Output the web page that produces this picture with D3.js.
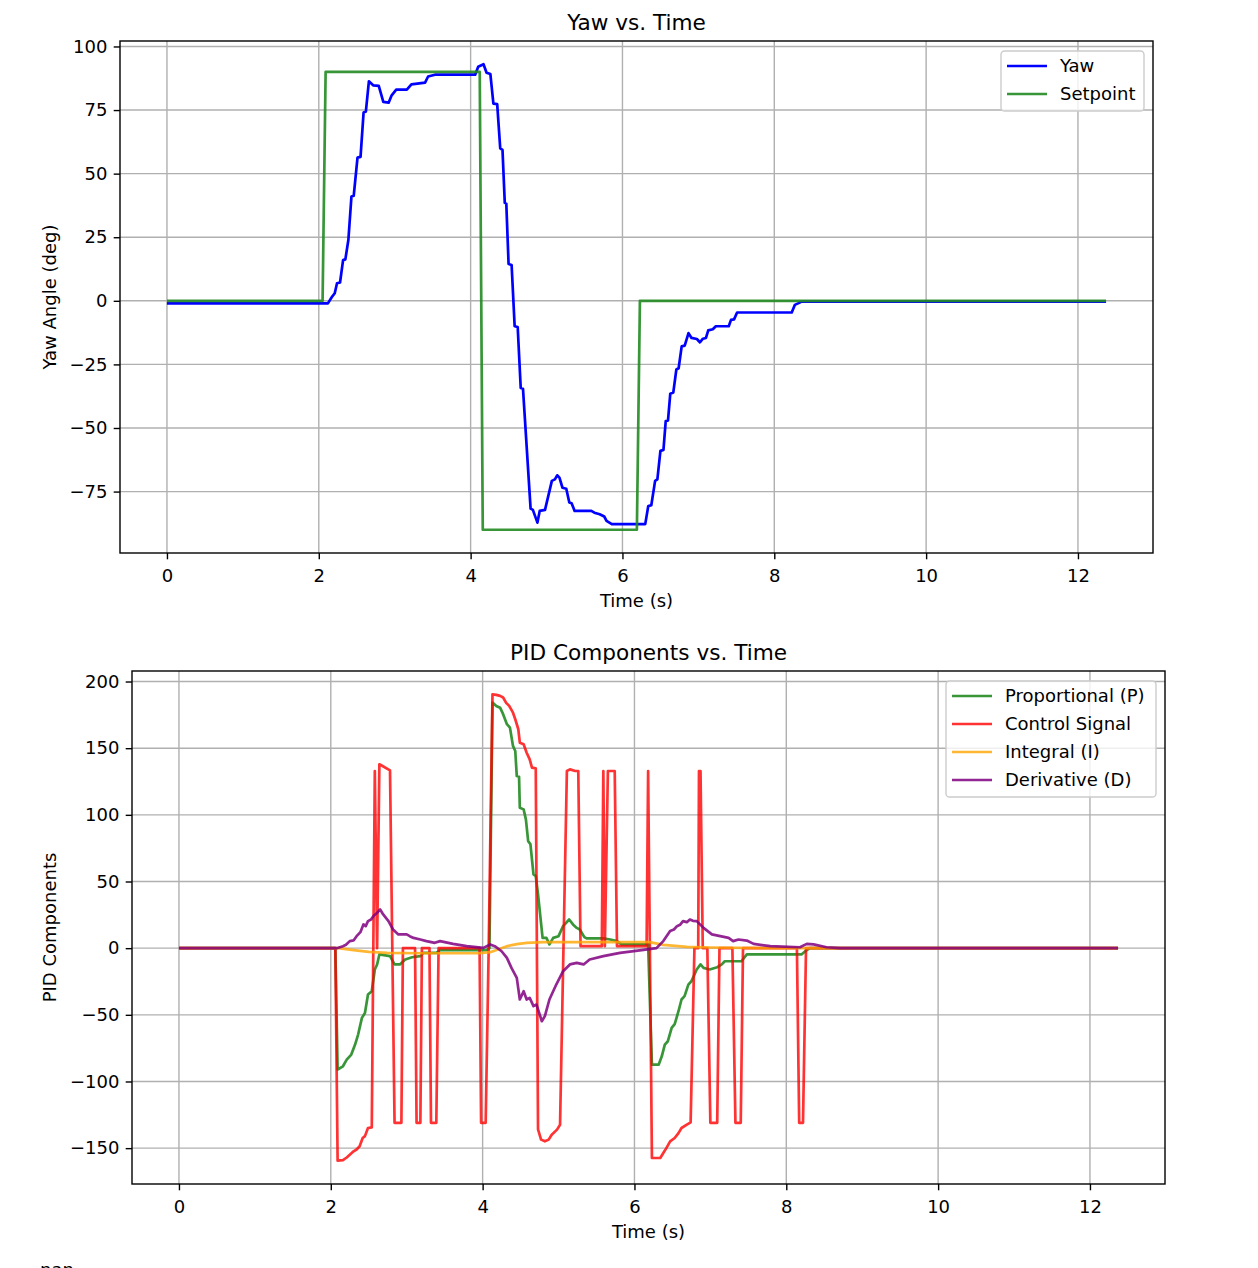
<!DOCTYPE html>
<html lang="en">
	<head>
		<meta charset="utf-8">
		<title>Yaw and PID components</title>
		<script type="text/javascript" src="https://d3js.org/d3.v7.min.js"></script>
		<style type="text/css">
			body { margin: 0; overflow: hidden; background: #fff; }
			svg { display: block; font-family: "DejaVu Sans", sans-serif; }
		</style>
	</head>
	<body>
		<script type="text/javascript">

			//Tick values shared by both panels
			var timeTicks = [0, 2, 4, 6, 8, 10, 12];
			var yawTicks = [-75, -50, -25, 0, 25, 50, 75, 100];
			var pidTicks = [-150, -100, -50, 0, 50, 100, 150, 200];

			//Yaw angle (deg)
			var yawTime = [0, 2.12, 2.17, 2.21, 2.24, 2.28, 2.32, 2.35, 2.39, 2.43, 2.46, 2.51, 2.55, 2.59, 2.62, 2.66, 2.72, 2.79, 2.85, 2.92,
				2.96, 3.02, 3.16, 3.22, 3.40, 3.44, 3.53, 4.06, 4.10, 4.17, 4.21, 4.26, 4.30, 4.35, 4.39, 4.42, 4.45, 4.47, 4.50, 4.54,
				4.58, 4.62, 4.66, 4.69, 4.79, 4.82, 4.88, 4.91, 4.98, 5.07, 5.11, 5.14, 5.17, 5.21, 5.26, 5.30, 5.33, 5.37, 5.59, 5.63,
				5.70, 5.76, 5.79, 5.86, 6.30, 6.34, 6.38, 6.43, 6.46, 6.50, 6.54, 6.57, 6.60, 6.63, 6.67, 6.71, 6.74, 6.78, 6.82, 6.87,
				6.91, 6.98, 7.02, 7.06, 7.10, 7.13, 7.19, 7.23, 7.40, 7.43, 7.47, 7.51, 8.23, 8.27, 8.32, 8.36, 12.37];
			var yawAngle = [-1, -1, 1.4, 3, 6.9, 7.2, 16, 16.3, 24, 41, 41.3, 56.3, 56.6, 74, 74.4, 86.3, 84.7, 84.5, 78.2, 77.9,
				80.8, 83, 83, 85.1, 85.8, 88.2, 88.9, 88.9, 92, 93, 89.7, 89.2, 77.5, 77.3, 59.9, 59.3, 38.5, 38.2, 14.5, 14.1,
				-10, -10.3, -34.3, -34.6, -81.7, -82.2, -87.2, -82.6, -82.2, -70.8, -70.2, -68.6, -69.5, -73.5, -73.9, -79.3, -79.6, -82.6, -82.6, -83.3,
				-83.9, -84.8, -86.5, -87.8, -87.8, -80.7, -80.4, -70.8, -70.2, -59, -58.6, -47.3, -47, -36.5, -36, -27, -26.5, -17.9, -17.6, -12.7,
				-14.6, -15, -16.3, -14.9, -14.6, -11.6, -11.2, -10, -10, -7.5, -7.3, -4.6, -4.6, -1.6, -0.9, -0.3, -0.3];

			//Setpoint (deg)
			var setTime = [0, 2.05, 2.09, 4.12, 4.16, 6.19, 6.23, 12.37];
			var setAngle = [0, 0, 90, 90, -90, -90, 0, 0];

			//Proportional term
			var pTime = [0, 2.06, 2.09, 2.16, 2.21, 2.27, 2.32, 2.36, 2.41, 2.45, 2.49, 2.54, 2.58, 2.61, 2.64, 2.78, 2.84, 2.91, 2.98, 3.07,
				3.18, 3.22, 3.39, 3.44, 4.05, 4.09, 4.13, 4.18, 4.23, 4.27, 4.32, 4.36, 4.40, 4.43, 4.45, 4.48, 4.49, 4.54, 4.57, 4.60,
				4.63, 4.67, 4.70, 4.73, 4.79, 4.84, 4.88, 4.93, 5.00, 5.06, 5.14, 5.19, 5.24, 5.28, 5.34, 5.37, 5.59, 5.68, 5.77, 5.83,
				6.16, 6.18, 6.23, 6.32, 6.36, 6.40, 6.44, 6.49, 6.53, 6.58, 6.62, 6.66, 6.71, 6.75, 6.82, 6.87, 6.91, 6.99, 7.09, 7.15,
				7.19, 7.41, 7.48, 8.20, 8.25, 8.31, 12.37];
			var pValue = [0, 0, -91, -88.6, -83.6, -79.8, -72.3, -64.8, -52.3, -48.6, -34.8, -32.3, -16, -12.2, -4.7, -6, -12.2, -12.2, -8.5, -6.8,
				-6, -3.5, -3.5, -1.5, -1.5, 0, 184.2, 181.7, 180.4, 175.5, 168, 165.4, 151.7, 147.9, 129.1, 128.5, 105.3, 104.1, 96.6, 80.3,
				77.9, 55.3, 54.1, 40.3, 7.7, 7.7, 2.8, 7.7, 9, 16.5, 21.5, 17.8, 15.2, 14, 8.3, 7.3, 7.3, 6.5, 5.3, 2.8,
				2.8, 3, -87.3, -87.3, -81.1, -72.3, -69.8, -59.8, -57, -47.3, -38.5, -36, -27.3, -24.8, -16, -12.2, -14.8, -16, -14.3, -12.2,
				-9.8, -9.8, -4.7, -4.7, -2.3, 0, 0];

			//Control signal
			var ctrlTime = [0, 2.06, 2.09, 2.16, 2.21, 2.25, 2.30, 2.34, 2.38, 2.42, 2.45, 2.49, 2.54, 2.58, 2.61, 2.64, 2.67, 2.78, 2.84, 2.93,
				2.95, 3.11, 3.13, 3.18, 3.20, 3.30, 3.32, 3.39, 3.42, 3.96, 3.98, 4.04, 4.08, 4.13, 4.18, 4.23, 4.27, 4.31, 4.35, 4.40,
				4.43, 4.47, 4.49, 4.54, 4.58, 4.62, 4.65, 4.70, 4.73, 4.77, 4.82, 4.87, 4.91, 4.98, 5.02, 5.11, 5.15, 5.22, 5.26, 5.29,
				5.57, 5.59, 5.61, 5.65, 5.74, 5.77, 6.16, 6.18, 6.23, 6.34, 6.38, 6.42, 6.47, 6.53, 6.58, 6.62, 6.69, 6.74, 6.79, 6.84,
				6.85, 6.87, 6.90, 6.96, 7.00, 7.09, 7.12, 7.29, 7.33, 7.40, 7.43, 8.14, 8.17, 8.22, 8.26, 12.37];
			var ctrlValue = [0, 0, -159.4, -159, -157, -155, -152.4, -151, -148.6, -142.4, -141, -134.9, -134.4, 132.9, 0, 137.9, 137, 133.4, -131, -131,
				0, 0, -131, -131, 0, 0, -131, -131, 0, 0, -131, -131, 0, 190.4, 190, 189.2, 188, 184, 181.7, 176.6,
				171.7, 164.2, 154.1, 152.9, 146.6, 141.6, 135.4, 134.9, -136, -143.6, -144.9, -143.6, -139.9, -136.1, -132.4, 132.9, 134.1, 132.9, 132.9, 1.5,
				1.5, 132.9, 1.5, 132.9, 132.9, 1.5, 1.5, 132.9, -157.4, -157.4, -153.7, -150, -144.9, -142.4, -138.7, -134.9, -132.4, -130.6, 0, 0,
				132.9, 132.9, 0, 0, -131, -131, 0, 0, -131, -131, 0, 0, -131, -131, 0, 0];

			//Integral term
			var iTime = [0, 2.10, 2.30, 2.50, 2.74, 3.20, 3.96, 4.10, 4.20, 4.32, 4.45, 4.58, 4.80, 5.50, 6.20, 6.38, 6.69, 7.00, 7.70, 12.37];
			var iValue = [0, 0, -1.5, -2.8, -3.5, -3.8, -3.8, -3, -1, 1.5, 3, 4, 4.5, 4.5, 4.5, 2.5, 1, 0.5, 0, 0];

			//Derivative term
			var dTime = [0, 2.08, 2.16, 2.20, 2.25, 2.30, 2.34, 2.39, 2.43, 2.46, 2.49, 2.53, 2.56, 2.61, 2.65, 2.69, 2.76, 2.82, 2.89, 3.00,
				3.04, 3.09, 3.18, 3.26, 3.37, 3.44, 3.61, 3.79, 4.01, 4.10, 4.16, 4.25, 4.32, 4.38, 4.45, 4.49, 4.54, 4.58, 4.62, 4.67,
				4.71, 4.78, 4.82, 4.88, 4.97, 5.06, 5.15, 5.24, 5.33, 5.41, 5.59, 5.81, 6.07, 6.29, 6.38, 6.47, 6.52, 6.56, 6.60, 6.64,
				6.69, 6.73, 6.77, 6.82, 6.91, 7.02, 7.13, 7.24, 7.30, 7.37, 7.48, 7.57, 7.79, 8.18, 8.27, 8.36, 8.53, 8.71, 12.37];
			var dValue = [0, 0, 1.5, 2.5, 5.3, 5.8, 9, 12, 17.8, 16.5, 20.3, 21.5, 24, 26.5, 29, 25.3, 20.3, 14, 10.3, 10.3,
				9, 7.7, 6.5, 5.3, 4, 5.3, 3.2, 1.5, 0.2, 2.8, 1.5, -2.3, -7.3, -14.8, -22.3, -38.5, -32.3, -38.5, -37.3, -43.5,
				-42.3, -54.8, -51, -38.5, -27.3, -17.3, -12.2, -11, -12.2, -8.5, -6, -3.5, -1.7, 0, 5.3, 12.8, 14, 16.5, 17.5, 20.3,
				19.5, 21.5, 20.5, 20.3, 15.2, 10.3, 9, 7.7, 5.3, 6.5, 5.7, 3.2, 1.5, 0.7, 3.2, 2.8, 0.7, 0, 0];

			//Width and height
			var w = 1258;
			var h = 1268;
			var fontSize = 18;

			//Create SVG element
			var svg = d3.select("body")
						.append("svg")
						.attr("width", w)
						.attr("height", h);

			svg.append("rect")
			   .attr("width", w)
			   .attr("height", h)
			   .attr("fill", "#fff");

			var minusFormat = function(d) {
				return d < 0 ? "\u2212" + Math.abs(d) : String(d);
			};

			var drawPanel = function(p) {
				var allT = [], allV = [];
				p.series.forEach(function(s) {
					allT = allT.concat(s.t);
					allV = allV.concat(s.v);
				});
				var tMin = d3.min(allT), tMax = d3.max(allT);
				var vMin = d3.min(allV), vMax = d3.max(allV);
				var tPad = (tMax - tMin) * 0.05, vPad = (vMax - vMin) * 0.05;

				//Create scale functions
				var xScale = d3.scaleLinear()
							   .domain([tMin - tPad, tMax + tPad])
							   .range([p.left, p.right]);
				var yScale = d3.scaleLinear()
							   .domain([vMin - vPad, vMax + vPad])
							   .range([p.bottom, p.top]);

				var g = svg.append("g");

				//Grid
				g.selectAll("line.vgrid")
				 .data(timeTicks)
				 .enter()
				 .append("line")
				 .attr("x1", function(d) { return xScale(d); })
				 .attr("x2", function(d) { return xScale(d); })
				 .attr("y1", p.top)
				 .attr("y2", p.bottom)
				 .attr("stroke", "#b0b0b0")
				 .attr("stroke-width", 1.4);
				g.selectAll("line.hgrid")
				 .data(p.yTicks)
				 .enter()
				 .append("line")
				 .attr("x1", p.left)
				 .attr("x2", p.right)
				 .attr("y1", function(d) { return yScale(d); })
				 .attr("y2", function(d) { return yScale(d); })
				 .attr("stroke", "#b0b0b0")
				 .attr("stroke-width", 1.4);

				//Lines
				var line = d3.line()
							 .x(function(d) { return xScale(d[0]); })
							 .y(function(d) { return yScale(d[1]); });
				p.series.forEach(function(s) {
					g.append("path")
					 .datum(d3.zip(s.t, s.v))
					 .attr("d", line)
					 .attr("fill", "none")
					 .attr("stroke", s.color)
					 .attr("stroke-opacity", s.opacity)
					 .attr("stroke-width", 2.7)
					 .attr("stroke-linejoin", "round");
				});

				//Axes
				var xAxis = d3.axisBottom(xScale)
							  .tickValues(timeTicks)
							  .tickSize(6.3)
							  .tickPadding(9.5);
				var yAxis = d3.axisLeft(yScale)
							  .tickValues(p.yTicks)
							  .tickFormat(minusFormat)
							  .tickSize(6.3)
							  .tickPadding(6.3);
				var gx = g.append("g")
						  .attr("transform", "translate(0," + p.bottom + ")")
						  .call(xAxis);
				var gy = g.append("g")
						  .attr("transform", "translate(" + p.left + ",0)")
						  .call(yAxis);
				[gx, gy].forEach(function(a) {
					a.select(".domain").remove();
					a.selectAll(".tick line").attr("stroke", "#000").attr("stroke-width", 1.4);
					a.selectAll(".tick text")
					 .attr("fill", "#000")
					 .style("font-family", "DejaVu Sans")
					 .style("font-size", fontSize + "px");
				});

				//Frame
				g.append("rect")
				 .attr("x", p.left)
				 .attr("y", p.top)
				 .attr("width", p.right - p.left)
				 .attr("height", p.bottom - p.top)
				 .attr("fill", "none")
				 .attr("stroke", "#000")
				 .attr("stroke-width", 1.4);

				//Titles and labels
				g.append("text")
				 .attr("x", (p.left + p.right) / 2)
				 .attr("y", p.top - 11)
				 .attr("text-anchor", "middle")
				 .attr("font-size", "21.6px")
				 .text(p.title);
				g.append("text")
				 .attr("x", (p.left + p.right) / 2)
				 .attr("y", p.bottom + 54)
				 .attr("text-anchor", "middle")
				 .attr("font-size", fontSize + "px")
				 .text("Time (s)");
				g.append("text")
				 .attr("transform", "translate(56," + (p.top + p.bottom) / 2 + ") rotate(-90)")
				 .attr("text-anchor", "middle")
				 .attr("font-size", fontSize + "px")
				 .text(p.ylabel);

				//Legend
				var lg = p.legend;
				g.append("rect")
				 .attr("x", lg.x)
				 .attr("y", lg.y)
				 .attr("width", lg.w)
				 .attr("height", lg.h)
				 .attr("rx", 3.6)
				 .attr("fill", "#fff")
				 .attr("fill-opacity", 0.8)
				 .attr("stroke", "#cccccc")
				 .attr("stroke-width", 1.4);
				p.series.forEach(function(s, i) {
					var cy = lg.y + 15 + i * 28;
					g.append("line")
					 .attr("x1", lg.x + 6)
					 .attr("x2", lg.x + 46)
					 .attr("y1", cy)
					 .attr("y2", cy)
					 .attr("stroke", s.color)
					 .attr("stroke-opacity", s.opacity)
					 .attr("stroke-width", 2.7);
					g.append("text")
					 .attr("x", lg.x + 59)
					 .attr("y", cy)
					 .attr("dy", "0.36em")
					 .attr("font-size", fontSize + "px")
					 .attr("fill", "#000")
					 .text(s.label);
				});
			};

			drawPanel({
				left: 120, right: 1153, top: 41, bottom: 553,
				title: "Yaw vs. Time",
				ylabel: "Yaw Angle (deg)",
				yTicks: yawTicks,
				series: [
					{ t: yawTime, v: yawAngle, color: "blue", opacity: 1, label: "Yaw" },
					{ t: setTime, v: setAngle, color: "forestgreen", opacity: 0.9, label: "Setpoint" }
				],
				legend: { x: 1001, y: 51, w: 143, h: 60 }
			});

			drawPanel({
				left: 132, right: 1165, top: 671, bottom: 1184,
				title: "PID Components vs. Time",
				ylabel: "PID Components",
				yTicks: pidTicks,
				series: [
					{ t: pTime, v: pValue, color: "forestgreen", opacity: 0.9, label: "Proportional (P)" },
					{ t: ctrlTime, v: ctrlValue, color: "red", opacity: 0.8, label: "Control Signal" },
					{ t: iTime, v: iValue, color: "orange", opacity: 0.8, label: "Integral (I)" },
					{ t: dTime, v: dValue, color: "purple", opacity: 0.85, label: "Derivative (D)" }
				],
				legend: { x: 946, y: 681, w: 210, h: 116 }
			});

			//Stray output text cut off at the bottom edge, as in the source image
			svg.append("text")
			   .attr("x", 40)
			   .attr("y", 1276)
			   .attr("font-size", fontSize + "px")
			   .text("nan");

		</script>
	</body>
</html>
